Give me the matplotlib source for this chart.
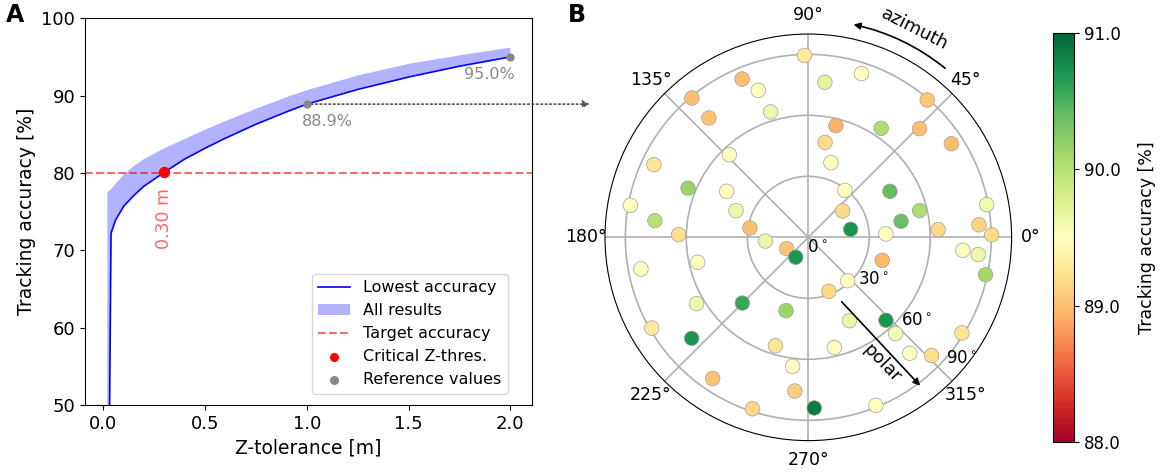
import numpy as np
import matplotlib.pyplot as plt
import matplotlib.transforms as mtransforms

# panel A: accuracy vs z-tolerance
z_tol = [0.02, 0.038, 0.06, 0.1, 0.15, 0.2, 0.3, 0.4, 0.5, 0.6, 0.75, 0.9, 1.0, 1.25, 1.5, 1.75, 2.0]
acc_low = [15.0, 72.2, 73.9, 75.7, 77.1, 78.3, 80.1, 81.8, 83.2, 84.5, 86.3, 87.9, 88.9, 90.8, 92.4, 93.8, 95.0]
acc_high = [77.5, 77.9, 78.6, 79.8, 80.9, 81.8, 83.2, 84.4, 85.6, 86.7, 88.3, 89.8, 90.7, 92.6, 94.1, 95.2, 96.2]
z_crit = 0.30
acc_crit = 80.1
ref_z = [1.0, 2.0]
ref_acc = [88.9, 95.0]
target = 80

# panel B: accuracy per direction (azimuth deg, polar deg, accuracy %)
azimuth = [91.2, 112.7, 108.8, 106.7, 129.9, 129.8, 133.7, 154.8, 157.8, 150.6,
           169.8, 159.8, 173.8, 170.9, 178.8, 184.9, 72.0, 83.9, 49.1, 76.1,
           56.2, 44.3, 33.2, 80.0, 73.1, 52.0, 29.4, 37.5, 13.5, 10.4,
           9.8, 4.2, 10.7, 2.5, 3.4, 0.8, 207.6, 237.7, 190.7, 192.7,
           210.7, 224.9, 253.1, 210.1, 220.9, 253.1, 263.1, 235.9, 265.0, 252.0,
           355.2, 354.2, 348.1, 342.7, 312.2, 290.9, 296.2, 313.1, 312.2, 283.3,
           311.2, 316.2, 328.1, 272.0, 291.9]
polar = [89.5, 84.4, 76.4, 64.4, 89.3, 76.4, 56.2, 83.9, 63.9, 46.1,
         88.9, 37.9, 75.9, 29.1, 63.8, 21.2, 84.7, 76.7, 89.4, 56.6,
         64.5, 76.5, 84.1, 47.4, 38.4, 29.3, 46.1, 21.3, 56.3, 89.2,
         46.3, 84.2, 21.2, 38.2, 64.0, 90.2, 12.0, 11.6, 83.8, 55.8,
         63.9, 45.8, 37.7, 89.0, 75.9, 55.7, 63.9, 83.9, 75.9, 88.7,
         76.3, 84.0, 89.1, 38.1, 28.8, 28.4, 45.7, 55.9, 63.9, 55.7,
         75.8, 84.0, 89.0, 84.0, 89.1]
acc_dir = [89.3, 89.0, 89.5, 89.62, 89.0, 89.03, 89.5, 89.25, 90.15, 89.5,
           89.5, 89.62, 90.0, 89.0, 89.2, 89.65, 89.5, 89.7, 89.06, 88.93,
           90.05, 89.0, 89.0, 89.17, 89.5, 89.5, 90.4, 89.17, 90.05, 89.6,
           90.37, 89.12, 90.7, 89.5, 89.17, 89.17, 89.05, 90.7, 89.5, 89.5,
           89.62, 90.58, 90.15, 89.3, 90.7, 89.25, 89.5, 89.03, 89.1, 89.17,
           89.5, 89.62, 90.1, 88.97, 89.5, 89.17, 89.65, 90.7, 89.58, 89.5,
           89.5, 89.2, 89.25, 90.88, 89.5]
r_ticks = [0, 30, 60, 90]
# where the polar-angle labels sit (azimuth deg, radius)
r_lab_theta = [-46, -32.5, -37.4, -38.2]
r_lab_r = [6.6, 37.9, 67.2, 96.0]

fig = plt.figure(figsize=(11.61, 4.72), dpi=100)

ax = fig.add_axes([0.0732, 0.1415, 0.3848, 0.8199])
ax.plot(z_tol, acc_low, color='blue', lw=1.2, label='Lowest accuracy')
ax.fill_between(z_tol, acc_low, acc_high, color='blue', alpha=0.3, lw=0, label='All results')
ax.axhline(target, color='red', ls='--', alpha=0.6, lw=1.5, label='Target accuracy')
ax.scatter([z_crit], [acc_crit], color='red', s=52, zorder=5, label='Critical Z-thres.')
ax.scatter(ref_z, ref_acc, color='#888888', s=25, zorder=5, label='Reference values')

ax.text(z_crit, acc_crit - 2.0, f'{z_crit:.2f} m', rotation=90, color='red', alpha=0.6,
        ha='center', va='top', fontsize=12.5)
ax.text(ref_z[0] + 0.1, ref_acc[0] - 2.2, f'{ref_acc[0]:.1f}%', color='#888888',
        ha='center', va='center', fontsize=11.5)
ax.text(ref_z[1] - 0.105, ref_acc[1] - 2.3, f'{ref_acc[1]:.1f}%', color='#888888',
        ha='center', va='center', fontsize=11.5)

trans = mtransforms.blended_transform_factory(fig.transFigure, ax.transData)
ax.annotate('', xy=(590 / 1161, ref_acc[0]), xycoords=trans,
            xytext=(ref_z[0], ref_acc[0]), textcoords='data',
            arrowprops=dict(arrowstyle='-|>', ls=':', color='#555555', lw=1.2,
                            shrinkA=0, shrinkB=0),
            annotation_clip=False)

ax.set_xlim(-0.09, 2.105)
ax.set_ylim(50, 100)
ax.set_xticks(np.arange(0, 2.01, 0.5))
ax.set_yticks(np.arange(50, 101, 10))
ax.tick_params(labelsize=13)
ax.set_xlabel('Z-tolerance [m]', fontsize=13.5)
ax.set_ylabel('Tracking accuracy [%]', fontsize=13.5)
leg = ax.legend(loc='lower right', bbox_to_anchor=(0.946, 0.03), borderaxespad=0, fontsize=11.5)
for h in leg.legend_handles[3:]:
    h.set_sizes([30])

# polar panel
pax = fig.add_axes([0.5211, 0.0665, 0.3502, 0.8614], projection='polar')
sc = pax.scatter(np.radians(azimuth), polar, c=acc_dir, cmap='RdYlGn', vmin=88, vmax=91,
                 s=110, edgecolors='#a0a0a0', linewidths=0.5, zorder=3)
pax.set_ylim(0, 100)
pax.set_rticks(r_ticks)
pax.set_yticklabels([])
pax.grid(color='#b0b0b0', lw=1.2)
pax.tick_params(axis='x', labelsize=12.5)
for t, th, rr in zip(r_ticks, r_lab_theta, r_lab_r):
    pax.text(np.radians(th), rr, rf'${t}^\circ$', ha='center', va='center',
             fontsize=12, zorder=4)

pax.annotate('', xy=(np.radians(78), 107), xytext=(np.radians(51), 107),
             arrowprops=dict(arrowstyle='-|>', color='black', lw=1.2,
                             connectionstyle='arc3,rad=0.118', shrinkA=0, shrinkB=0),
             annotation_clip=False)
pax.text(np.radians(63), 115, 'azimuth', rotation=-27, ha='center', va='center', fontsize=13)
pax.annotate('', xy=(np.radians(307), 91.4), xytext=(np.radians(297.4), 35.7),
             arrowprops=dict(arrowstyle='-|>', color='black', lw=1.2, shrinkA=0, shrinkB=0),
             annotation_clip=False)
pax.text(np.radians(300.2), 71.7, 'polar', rotation=-46, ha='center', va='center', fontsize=13)

cax = fig.add_axes([0.9072, 0.0642, 0.0181, 0.8653])
cb = fig.colorbar(sc, cax=cax, ticks=[88, 89, 90, 91], format='%.1f')
cb.ax.tick_params(labelsize=12)
cb.set_label('Tracking accuracy [%]', fontsize=12.5, labelpad=12)

fig.text(15.5 / 1161, 1 - 14.5 / 472, 'A', fontsize=17, fontweight='bold', ha='center', va='center')
fig.text(577 / 1161, 1 - 14.5 / 472, 'B', fontsize=17, fontweight='bold', ha='center', va='center')

fig.savefig('out.png', dpi=100)
